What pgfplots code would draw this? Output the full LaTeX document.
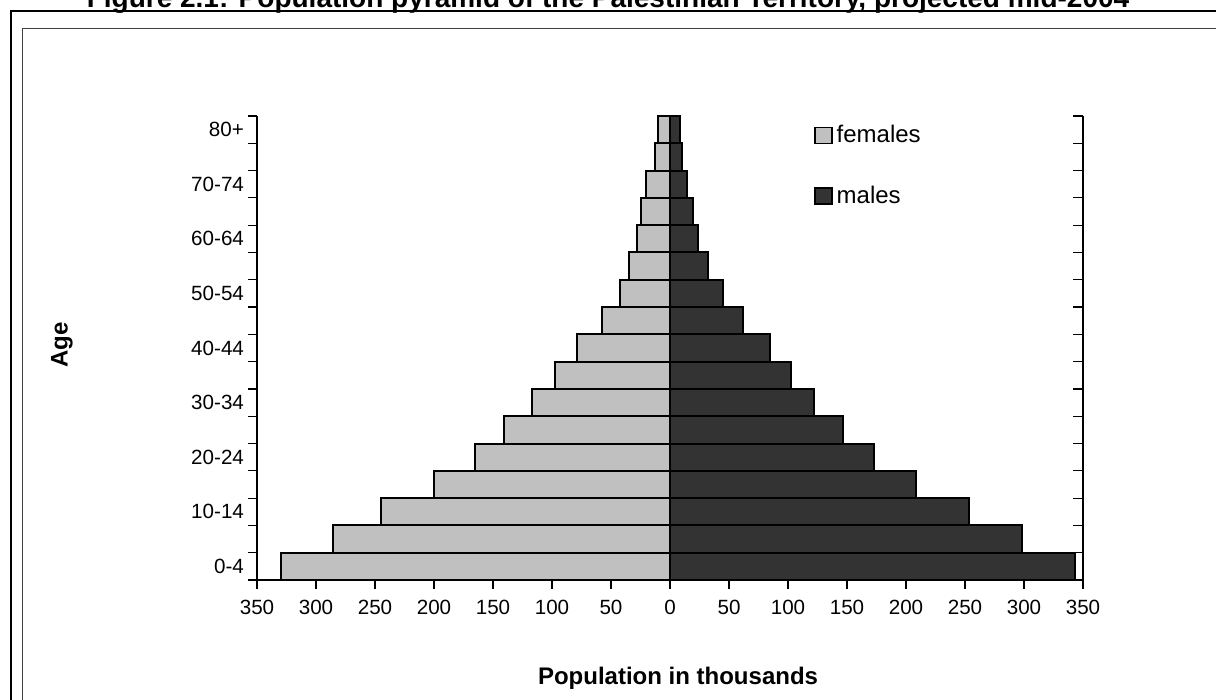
\documentclass[border=0pt]{standalone}
\usepackage{fontspec}
\setmainfont{Liberation Sans}
\usepackage{pgfplots}
\pgfplotsset{compat=1.18}
\definecolor{fem}{HTML}{C0C0C0}
\definecolor{mal}{HTML}{333333}
\begin{document}
\begin{tikzpicture}[x=0.5pt,y=0.5pt]
\useasboundingbox (0,0) rectangle (1216,700);
\begin{scope}
\clip (0,0) rectangle (1216,700);
\draw[line width=1.1pt] (11,-10) -- (11,689) -- (1230,689);
\draw[line width=0.5pt, black!75] (22,-10) -- (22,671) -- (1230,671);
\node[anchor=base, font=\bfseries\fontsize{14}{16}\selectfont] at (608,692) {Figure 2.1: Population pyramid of the Palestinian Territory, projected mid-2004};
\end{scope}
\begin{axis}[at={(128.5pt,60pt)}, anchor=south west, width=413pt, height=232pt, scale only axis,
  xmin=-350, xmax=350, ymin=-0.5, ymax=16.5,
  axis x line*=bottom, axis y line*=left, axis line style={-, line width=0.6pt},
  xbar, bar width=1, bar shift=0pt,
  tick align=outside, major tick length=4.5pt, tick style={black, line width=0.6pt},
  /pgf/number format/assume math mode=true,
  every tick label/.append style={font=\fontsize{10.3}{12}\selectfont},
  xtick={-350,-300,...,350},
  xticklabels={350,300,250,200,150,100,50,0,50,100,150,200,250,300,350},
  xticklabel style={yshift=-2pt},
  ytick={-0.5,0.5,...,16.5}, yticklabels={},
  extra y ticks={0,2,...,16},
  extra y tick labels={0-4,10-14,20-24,30-34,40-44,50-54,60-64,70-74,80+},
  extra y tick style={major tick length=0pt, yticklabel style={xshift=-3pt}},
  legend style={draw=none, fill=none, at={(0.674,0.989)}, anchor=north west, inner sep=0pt,
    font=\fontsize{12}{14}\selectfont, row sep=16pt},
  legend cell align=left,
  legend image code/.code={\draw[#1, line width=0.8pt] (0pt,-4pt) rectangle (8.5pt,4pt);},
]
\addplot[fill=fem, draw=black, line width=1pt] coordinates {
(-329.5,0) (-285.5,1) (-245,2) (-200,3) (-165.3,4) (-140.4,5) (-117.2,6) (-97.2,7) (-78.5,8)
(-57.3,9) (-42.4,10) (-34.5,11) (-28,12) (-25,13) (-20,14) (-13,15) (-10,16)};
\addlegendentry{females}
\addplot[fill=mal, draw=black, line width=1pt] coordinates {
(343.5,0) (298.3,1) (253.6,2) (208.6,3) (173,4) (146.2,5) (122.1,6) (102.6,7) (84.8,8)
(62.2,9) (44.7,10) (32.5,11) (23.5,12) (19.2,13) (14.7,14) (10,15) (8.5,16)};
\addlegendentry{males}
\end{axis}
\begin{axis}[at={(128.5pt,60pt)}, anchor=south west, width=413pt, height=232pt, scale only axis,
  xmin=-350, xmax=350, ymin=-0.5, ymax=16.5,
  axis x line=none, axis y line*=right, axis line style={-, line width=1pt},
  ytick={-0.5,0.5,...,16.5}, yticklabels={},
  tick align=inside, major tick length=5pt, tick style={black, line width=0.6pt}]
\addplot[draw=none] coordinates {(0,0)};
\end{axis}
\node[font=\bfseries\fontsize{12}{14}\selectfont] at (678,22) {Population in thousands};
\node[rotate=90, font=\bfseries\fontsize{12}{14}\selectfont] at (62,355) {Age};
\end{tikzpicture}
\end{document}
